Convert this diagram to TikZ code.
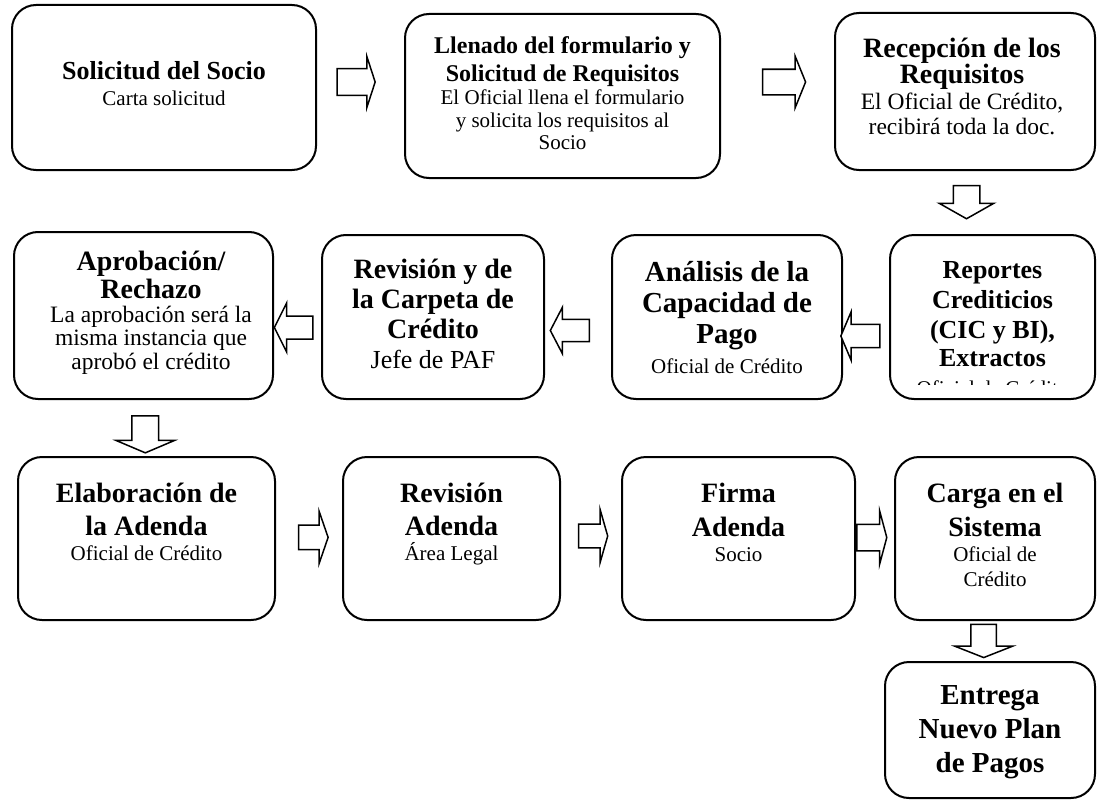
\documentclass[tikz,border=0pt]{standalone}
\usepackage{fontspec}
\setmainfont{Liberation Serif}
\usetikzlibrary{shapes,arrows,positioning,calc}

\newcommand{\subtxt}[2][21]{{\fontsize{#1}{#1}\selectfont\mdseries #2}}

\begin{document}
\begin{tikzpicture}[
    x=1pt, y=-1pt,
    box/.style={rectangle, draw, line width=2pt, rounded corners=24pt, fill=white, inner sep=0pt},
    boxtext/.style 2 args={anchor=north, align=center, inner sep=0pt, font=\fontsize{#1}{#2}\selectfont\bfseries},
    blockarrow/.style n args={5}{single arrow, draw, fill=white, line width=1.5pt, inner xsep=0pt,
        minimum height=#1, minimum width=#2, inner ysep=#3, single arrow head extend=#4, single arrow tip angle=#5}
]
    \useasboundingbox[fill=white] (0,0) rectangle (1097,800);

    % Row 1
    \node[box, minimum width=304, minimum height=165] (solicitud) at (164,87.5) {};
    \node[box, minimum width=315, minimum height=164] (llenado) at (562.5,96) {};
    \node[box, minimum width=260, minimum height=157] (recepcion) at (965,91.5) {};

    \node[boxtext={26}{26}] (solicitud-t) at (164,61) {Solicitud del Socio\\\subtxt{Carta solicitud}};
    \node[boxtext={24}{28}] (llenado-t) at (562.5,36.5) {Llenado del formulario y\\Solicitud de Requisitos\\[-5pt]
        \subtxt{El Oficial llena el formulario}\\[-5.5pt]\subtxt{y solicita los requisitos al}\\[-5.5pt]\subtxt{Socio}};
    \node[boxtext={28}{26}] (recepcion-t) at (962,38) {Recepción de los\\Requisitos\\
        \subtxt[23.5]{El Oficial de Crédito,}\\[-1pt]\subtxt[23.5]{recibirá toda la doc.}};

    % Row 2
    \node[box, minimum width=259, minimum height=167] (aprobacion) at (143.5,315.5) {};
    \node[box, minimum width=222, minimum height=164] (revcarpeta) at (433,317) {};
    \node[box, minimum width=230, minimum height=164] (analisis) at (727,317) {};
    \node[box, minimum width=205, minimum height=164] (reportes) at (992.5,317) {};

    \node[boxtext={28}{28}] (aprobacion-t) at (151,250.5) {Aprobación/\\Rechazo\\[-4pt]
        \subtxt[23.5]{La aprobación será la}\\[-4.5pt]\subtxt[23.5]{misma instancia que}\\[-4.5pt]\subtxt[23.5]{aprobó el crédito}};
    \node[boxtext={28}{30}] (revcarpeta-t) at (433,258.5) {Revisión y de\\la Carpeta de\\Crédito\\\subtxt[26]{Jefe de PAF}};
    \node[boxtext={29}{31}] (analisis-t) at (727,261) {Análisis de la\\Capacidad de\\Pago\\[-1pt]\subtxt{Oficial de Crédito}};
    \begin{scope}
        \clip (reportes.north west) rectangle ([yshift=16pt]reportes.south east);
        \node[boxtext={26}{30}] (reportes-t) at (992.5,261) {Reportes\\Crediticios\\(CIC y BI),\\[-2pt]Extractos\\[-1pt]
            \subtxt{Oficial de Crédito}};
    \end{scope}

    % Row 3
    \node[box, minimum width=257, minimum height=163] (elaboracion) at (146.5,538.5) {};
    \node[box, minimum width=217, minimum height=163] (revadenda) at (451.5,538.5) {};
    \node[box, minimum width=233, minimum height=163] (firma) at (738.5,538.5) {};
    \node[box, minimum width=200, minimum height=163] (carga) at (995,538.5) {};
    \node[box, minimum width=210, minimum height=136] (entrega) at (990,730) {};

    \node[boxtext={28}{33}] (elaboracion-t) at (146.5,482.5) {Elaboración de\\la Adenda\\[-8pt]\subtxt{Oficial de Crédito}};
    \node[boxtext={28}{33}] (revadenda-t) at (451.5,482.5) {Revisión\\Adenda\\[-8pt]\subtxt{Área Legal}};
    \node[boxtext={28}{34}] (firma-t) at (738.5,482.5) {Firma\\Adenda\\[-9pt]\subtxt{Socio}};
    \node[boxtext={28}{34}] (carga-t) at (995,482.5) {Carga en el\\Sistema\\[-9pt]\subtxt{Oficial de}\\[-9pt]\subtxt{Crédito}};
    \node[boxtext={29}{34}] (entrega-t) at (990,685) {Entrega\\Nuevo Plan\\de Pagos};

    % Block arrows
    \node[blockarrow={38}{50}{12.5}{12.5}{144}] (sol-lle) at (354,82) {};
    \node[blockarrow={43}{50}{12}{13}{136}] (lle-rec) at (781.5,82) {};
    \node[blockarrow={33}{53}{12.5}{14}{121}, rotate=-90] (rec-rep) at (966.5,198.5) {};

    \node[blockarrow={39}{47}{10.85}{12.65}{134}, rotate=180] (rep-ana) at (862.8,336) {};
    \node[blockarrow={39}{45}{10.3}{12.2}{125}, rotate=180] (ana-rev) at (572.7,330.5) {};
    \node[blockarrow={38.5}{48}{10.75}{13.25}{127}, rotate=180] (rev-apr) at (296.5,327.5) {};
    \node[blockarrow={37}{57}{12.65}{15.85}{134}, rotate=-90] (apr-ela) at (145.3,431.5) {};

    \node[blockarrow={29.6}{51}{11.5}{14}{142}] (ela-rad) at (311.2,537.4) {};
    \node[blockarrow={29}{51.7}{11.15}{14.7}{148}] (rad-fir) at (591.5,536) {};
    \node[blockarrow={30}{51.6}{12.5}{13.3}{150}] (fir-car) at (870,537.5) {};
    \node[blockarrow={33.3}{56.5}{12}{16.25}{137}, rotate=-90] (car-ent) at (983.7,638.4) {};
\end{tikzpicture}
\end{document}
